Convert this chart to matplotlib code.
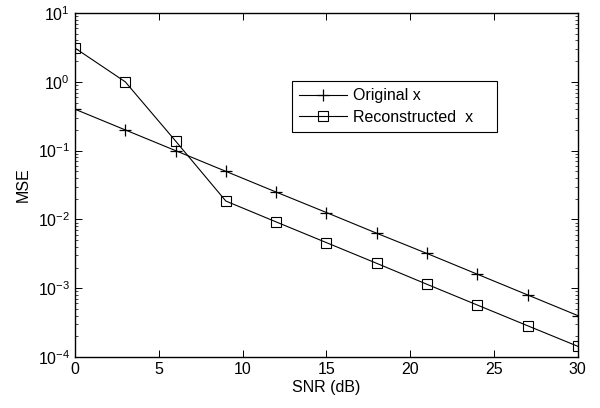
import numpy as np
import matplotlib
matplotlib.use("Agg")
import matplotlib.pyplot as plt
from matplotlib.ticker import LogLocator, NullFormatter

plt.rcParams['font.family'] = ['Liberation Sans', 'DejaVu Sans']
plt.rcParams['mathtext.fontset'] = 'custom'
plt.rcParams['mathtext.rm'] = 'Liberation Sans'
plt.rcParams['mathtext.it'] = 'Liberation Sans'

# ==============================
# DATOS
# ==============================
snr_db = [0, 3, 6, 9, 12, 15, 18, 21, 24, 27, 30]
mse_original = [0.4, 0.2, 0.1, 0.05, 0.025, 0.0126, 0.0063, 0.0032, 0.0016, 0.0008, 0.0004]
mse_reconstructed = [3.1, 1.0, 0.138, 0.0185, 0.0092, 0.0046, 0.0023, 0.00114, 0.00057, 0.000285, 0.000143]

FS = 11.5

fig = plt.figure(figsize=(6.0, 4.08), dpi=100)
ax = fig.add_axes([0.125, 0.125, 0.838, 0.843])

ax.semilogy(snr_db, mse_original, color="black", lw=0.8, marker="+",
            markersize=8, markeredgewidth=0.9, label="Original x")
ax.semilogy(snr_db, mse_reconstructed, color="black", lw=0.8, marker="s",
            markersize=7, markerfacecolor="none", markeredgewidth=0.8,
            label="Reconstructed  x")

ax.set_xlim(0, 30)
ax.set_ylim(1e-4, 1e1)
ax.set_xticks([0, 5, 10, 15, 20, 25, 30])
ax.yaxis.set_major_locator(LogLocator(base=10, numticks=10))
ax.yaxis.set_minor_locator(LogLocator(base=10, subs=np.arange(2, 10), numticks=10))
ax.yaxis.set_minor_formatter(NullFormatter())

ax.tick_params(which="both", direction="in", top=True, right=True, labelsize=FS)
ax.tick_params(which="major", length=5, width=0.7)
ax.tick_params(which="minor", length=2.5, width=0.5)
for sp in ax.spines.values():
    sp.set_linewidth(1.0)

ax.set_xlabel("SNR (dB)", fontsize=FS, labelpad=2)
ax.set_ylabel("MSE", fontsize=FS, labelpad=5)

leg = ax.legend(loc="upper left", bbox_to_anchor=(0.431, 0.648, 0.408, 0.154),
                mode="expand", fontsize=FS, fancybox=False, edgecolor="black",
                framealpha=1, handlelength=3.0, borderpad=0.45, labelspacing=0.4,
                handletextpad=0.4, borderaxespad=0)
leg.get_frame().set_linewidth(0.8)

fig.savefig("out.png", dpi=100)
